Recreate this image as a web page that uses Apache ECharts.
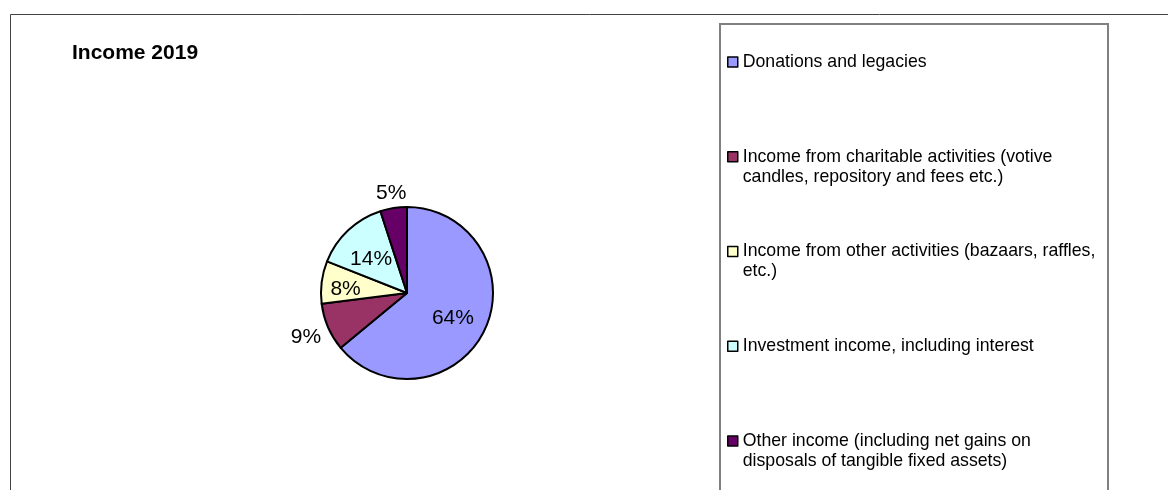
<!DOCTYPE html>
<html>
<head>
<meta charset="utf-8">
<script src="https://cdn.jsdelivr.net/npm/echarts@6/dist/echarts.min.js"></script>
<style>
  html, body { margin: 0; padding: 0; background: #fff; }
  #income { width: 1168px; height: 490px; }
</style>
</head>
<body>
<div id="income"></div>
<script>
// Income 2019 split, percent of total
const categories = [
  'Donations and legacies',
  'Income from charitable activities (votive candles, repository and fees etc.)',
  'Income from other activities (bazaars, raffles, etc.)',
  'Investment income, including interest',
  'Other income (including net gains on disposals of tangible fixed assets)'
];
const shares = [64, 9, 8, 14, 5];
const legendLines = [
  ['Donations and legacies'],
  ['Income from charitable activities (votive', 'candles, repository and fees etc.)'],
  ['Income from other activities (bazaars, raffles,', 'etc.)'],
  ['Investment income, including interest'],
  ['Other income (including net gains on', 'disposals of tangible fixed assets)']
];
const colors = ['#9999FF', '#993366', '#FFFFCC', '#CCFFFF', '#660066'];

const chart = echarts.init(document.getElementById('income'));

const font = '"Liberation Sans", Arial, sans-serif';
const lh = 20;
// where each percent label sits, as a share of the pie radius
const labelRadius = [0.59, 1.28, 0.72, 0.61, 1.18];

// one legend block per category so each row sits at a fixed step;
// an empty leading line keeps the marker level with the first text line
const legends = categories.map((name, i) => {
  const lines = legendLines[i];
  const firstLine = 62 + i * 94.75;
  const twoLines = lines.length > 1;
  return {
    data: [name],
    orient: 'vertical',
    left: 727,
    top: twoLines ? firstLine - 1.5 * lh : firstLine - lh / 2,
    padding: 0,
    icon: 'rect',
    itemWidth: 10,
    itemHeight: 10,
    selectedMode: false,
    itemStyle: { borderColor: '#000', borderWidth: 1.5 },
    formatter: () => (twoLines ? '\n' : '') + lines.join('\n'),
    textStyle: {
      fontFamily: font,
      fontSize: 17.7,
      color: '#000',
      lineHeight: lh
    }
  };
});

const options = {
  animation: false,
  color: colors,
  title: {
    text: 'Income 2019',
    left: 72,
    top: 43,
    padding: 0,
    textStyle: { fontFamily: font, fontSize: 21, fontWeight: 'bold', color: '#000' }
  },
  graphic: [
    {
      type: 'rect',
      shape: { x: 10.5, y: 14.5, width: 1300, height: 600 },
      style: { fill: 'none', stroke: '#444', lineWidth: 1 },
      silent: true
    },
    {
      type: 'rect',
      shape: { x: 720, y: 24, width: 388, height: 600 },
      style: { fill: 'none', stroke: '#808080', lineWidth: 2 },
      silent: true
    }
  ],
  legend: legends,
  series: [
    {
      type: 'pie',
      center: [407, 293],
      radius: 86,
      startAngle: 90,
      clockwise: true,
      avoidLabelOverlap: false,
      itemStyle: { borderColor: '#000', borderWidth: 2 },
      emphasis: { disabled: true },
      label: {
        position: 'inside',
        formatter: '{d}%',
        fontFamily: font,
        fontSize: 21,
        color: '#000'
      },
      labelLine: { show: false },
      labelLayout: (params) => {
        const data = chart.getModel().getSeriesByIndex(0).getData();
        const lay = data.getItemLayout(params.dataIndex);
        const mid = (lay.startAngle + lay.endAngle) / 2;
        const k = labelRadius[params.dataIndex];
        const rr = lay.r * k;
        return {
          x: lay.cx + rr * Math.cos(mid),
          y: lay.cy + rr * Math.sin(mid) + (k < 1 ? 4 : 0),
          align: 'center',
          verticalAlign: 'middle'
        };
      },
      data: categories.map((name, i) => ({ name: name, value: shares[i] }))
    }
  ]
};

chart.setOption(options);
</script>
</body>
</html>
